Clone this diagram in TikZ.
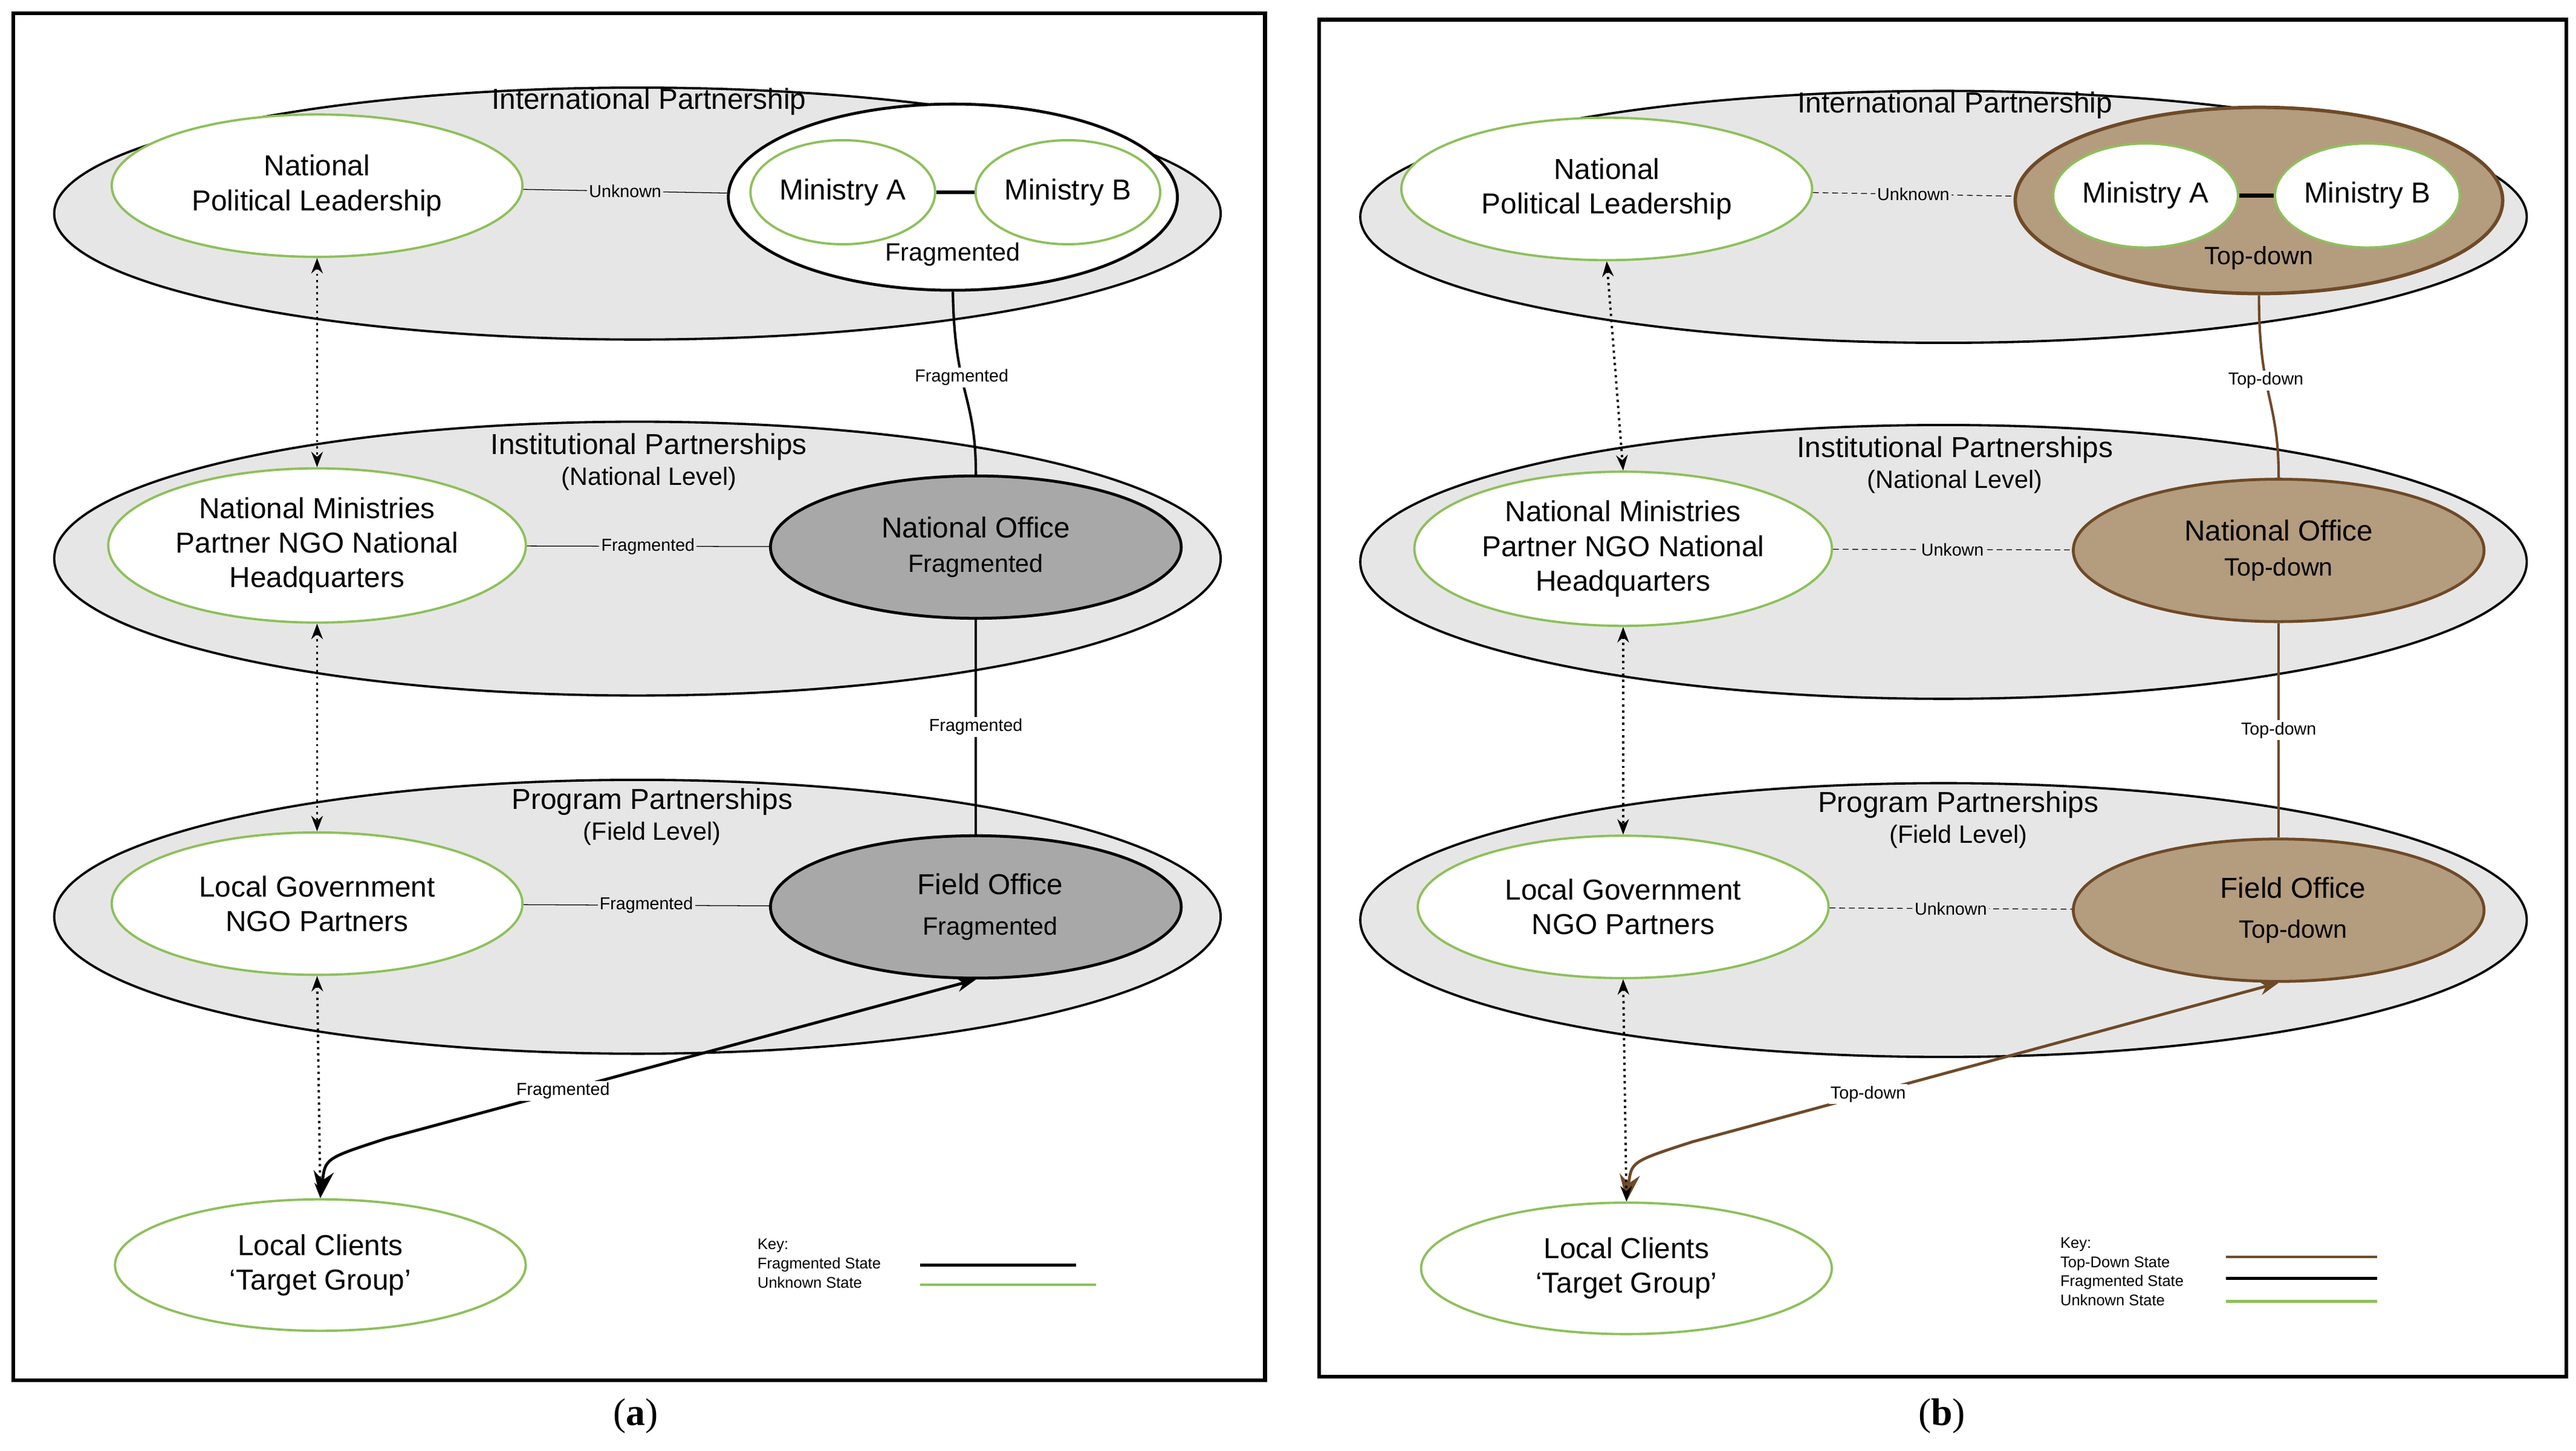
\documentclass[tikz,border=0pt]{standalone}
\usepackage{fontspec}
\setmainfont{Liberation Sans}
\newfontfamily\capfont{Liberation Serif}
\usetikzlibrary{arrows.meta,shapes.geometric}
\definecolor{bggray}{HTML}{E6E6E6}
\definecolor{offgray}{HTML}{A8A8A8}
\definecolor{actgreen}{HTML}{8DC05A}
\definecolor{brfill}{HTML}{B49C7E}
\definecolor{brline}{HTML}{6E4A28}
\newcommand{\subfs}{\fontsize{13}{15}\selectfont}
\begin{document}
\begin{tikzpicture}[x=0.03cm, y=-0.03cm,
    every node/.style={font=\fontsize{15}{18}\selectfont, align=center},
    level/.style={ellipse, draw=black, line width=1.2pt, fill=bggray, minimum width=21.3cm, minimum height=5cm},
    actor/.style={ellipse, draw=actgreen, line width=1.2pt, fill=white, minimum width=7.5cm, minimum height=2.6cm},
    minis/.style={ellipse, draw=actgreen, line width=1.2pt, fill=white, minimum width=3.3cm, minimum height=1.9cm, inner sep=1pt},
    office/.style={ellipse, draw=black, line width=1.5pt, fill=offgray, minimum width=7.5cm, minimum height=2.6cm},
    lbl/.style={font=\fontsize{9}{10}\selectfont, fill=bggray, text=black, inner sep=1pt},
    wlbl/.style={font=\fontsize{9}{10}\selectfont, fill=white, text=black, inner sep=1pt},
    small/.style={font=\fontsize{13}{15}\selectfont},
    capt/.style={font=\capfont\fontsize{20}{24}\selectfont},
    dots/.style={dotted, line width=1.2pt, {Stealth[length=8pt]}-{Stealth[length=8pt]}}]
  \useasboundingbox[fill=white] (0,0) rectangle (1568,883);

  % ---------- panel (a) ----------
  \draw[line width=2pt] (8,8) rectangle (770,840);
  \node[capt] (capa) at (387,862) {(\textbf{a})};
  \node[level, minimum height=4.6cm] (intla) at (388,130) {};
  \node (intlta) at (395,62) {International Partnership};
  \node[level] (insta) at (388,340) {};
  \node (instta) at (395,281) {Institutional Partnerships\\[-2pt]\subfs(National Level)};
  \node[level] (proga) at (388,558) {};
  \node (progta) at (397,497) {Program Partnerships\\[-2pt]\subfs(Field Level)};

  \node[actor] (npla) at (193,113) {National\\Political Leadership};
  \node[ellipse, draw=black, line width=1.5pt, fill=white, minimum width=8.2cm, minimum height=3.4cm] (grpa) at (580,120) {};
  \node[minis] (mina) at (513,117) {Ministry A};
  \node[minis] (minb) at (650,117) {Ministry B};
  \node[small] (grpta) at (580,155) {Fragmented};
  \node[actor] (nmpa) at (193,332) {National Ministries\\Partner NGO National\\Headquarters};
  \node[office] (nofa) at (594,333) {National Office\\\subfs Fragmented};
  \node[actor] (lgna) at (193,550) {Local Government\\NGO Partners};
  \node[office] (fofa) at (594,552) {\quad Field Office\\[3pt]\quad\subfs Fragmented};
  \node[actor, minimum height=2.4cm] (lcla) at (195,770) {Local Clients\\`Target Group'};

  \draw (npla) -- node[lbl]{Unknown} (grpa);
  \draw[line width=2pt] (mina) -- (minb);
  \draw (nmpa) -- node[lbl]{Fragmented} (nofa);
  \draw (lgna) -- node[lbl]{Fragmented} (fofa);
  \draw[line width=1.3pt] (grpa.south) .. controls (581,240) and (594,240) .. node[wlbl, pos=0.4]{Fragmented} (nofa.north);
  \draw[line width=1.3pt] (nofa.south) -- node[wlbl]{Fragmented} (fofa.north);
  \draw[line width=1.5pt, {Stealth[length=14pt]}-{Stealth[length=10pt]}] (lcla.north) .. controls (198,705) .. (235,693) -- node[wlbl, pos=0.3]{Fragmented} (fofa.south);
  \draw[dots] (npla.south) -- (nmpa.north);
  \draw[dots] (nmpa.south) -- (lgna.north);
  \draw[dots] (lgna.south) -- (lcla.north);

  \node[font=\fontsize{8}{10}\selectfont, anchor=west, align=left] (keya) at (457,769) {Key:\\Fragmented State\\Unknown State};
  \draw[line width=1.5pt] (560,770) -- (655,770);
  \draw[actgreen, line width=1.5pt] (560,782) -- (667,782);

  % ---------- panel (b) ----------
  \begin{scope}[xshift=795*0.03cm, yshift=-2*0.03cm]
  \draw[line width=2pt] (8,10) rectangle (767,836);
  \node[capt] (capb) at (387,860) {(\textbf{b})};
  \node[level, minimum height=4.6cm] (intlb) at (388,130) {};
  \node (intltb) at (395,62) {International Partnership};
  \node[level] (instb) at (388,340) {};
  \node (insttb) at (395,281) {Institutional Partnerships\\[-2pt]\subfs(National Level)};
  \node[level] (progb) at (388,558) {};
  \node (progtb) at (397,497) {Program Partnerships\\[-2pt]\subfs(Field Level)};

  \node[actor] (nplb) at (183,113) {National\\Political Leadership};
  \node[ellipse, draw=brline, line width=1.8pt, fill=brfill, minimum width=8.9cm, minimum height=3.4cm] (grpb) at (580,120) {};
  \node[minis] (minab) at (511,117) {Ministry A};
  \node[minis] (minbb) at (646,117) {Ministry B};
  \node[small] (grptb) at (580,155) {Top-down};
  \node[actor] (nmpb) at (193,332) {National Ministries\\Partner NGO National\\Headquarters};
  \node[office, draw=brline, fill=brfill] (nofb) at (592,333) {National Office\\\subfs Top-down};
  \node[actor] (lgnb) at (193,550) {Local Government\\NGO Partners};
  \node[office, draw=brline, fill=brfill] (fofb) at (592,552) {\quad Field Office\\[3pt]\quad\subfs Top-down};
  \node[actor, minimum height=2.4cm] (lclb) at (195,770) {Local Clients\\`Target Group'};

  \draw[densely dashed] (nplb) -- node[lbl]{Unknown} (grpb);
  \draw[line width=2pt] (minab) -- (minbb);
  \draw[densely dashed] (nmpb) -- node[lbl]{Unkown} (nofb);
  \draw[densely dashed] (lgnb) -- node[lbl]{Unknown} (fofb);
  \draw[brline, line width=1.3pt] (grpb.south) .. controls (580,240) and (592,240) .. node[wlbl, pos=0.4]{Top-down} (nofb.north);
  \draw[brline, line width=1.3pt] (nofb.south) -- node[wlbl]{Top-down} (fofb.north);
  \draw[brline, line width=1.5pt, {Stealth[length=14pt]}-{Stealth[length=10pt]}] (lclb.north) .. controls (198,705) .. (235,693) -- node[wlbl, pos=0.3]{Top-down} (fofb.south);
  \draw[dots] (nplb.south) -- (nmpb.north);
  \draw[dots] (nmpb.south) -- (lgnb.north);
  \draw[dots] (lgnb.south) -- (lclb.north);

  \node[font=\fontsize{8}{10}\selectfont, anchor=west, align=left] (keyb) at (455,772) {Key:\\Top-Down State\\Fragmented State\\Unknown State};
  \draw[brline, line width=1.5pt] (560,763) -- (652,763);
  \draw[line width=1.5pt] (560,776) -- (652,776);
  \draw[actgreen, line width=1.5pt] (560,790) -- (652,790);
  \end{scope}
\end{tikzpicture}
\end{document}
